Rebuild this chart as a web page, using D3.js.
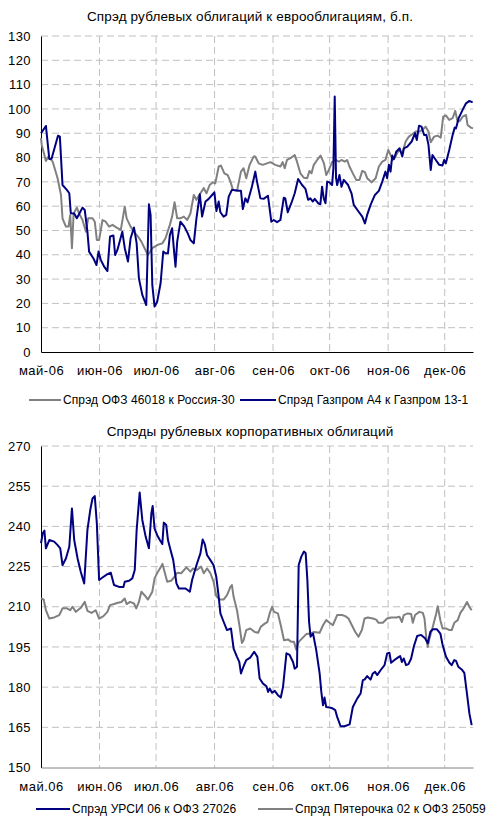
<!DOCTYPE html>
<html>
<head>
<meta charset="utf-8">
<script src="https://cdn.jsdelivr.net/npm/d3@7"></script>
<style>
  body { margin: 0; background: #fff; }
  text { font-family: "Liberation Sans", Arial, sans-serif; fill: #000; }
</style>
</head>
<body>
<svg id="chart" width="490" height="816"></svg>
<script>
// days counted from 1 May 2006
var monthStarts = [0, 31, 61, 92, 123, 153, 184, 214];
var monthLabels1 = ["май-06", "июн-06", "июл-06", "авг-06", "сен-06", "окт-06", "ноя-06", "дек-06"];
var monthLabels2 = ["май.06", "июн.06", "июл.06", "авг.06", "сен.06", "окт.06", "ноя.06", "дек.06"];

var ticks1 = [0, 10, 20, 30, 40, 50, 60, 70, 80, 90, 100, 110, 120, 130];
var ticks2 = [150, 165, 180, 195, 210, 225, 240, 255, 270];

// [day, spread b.p.]
var ofz46018 = [[0,88],[0.4,85.2],[2.6,78.6],[3.9,80.4],[6.2,78.3],[8.8,71.5],[10.6,64.6],[11.4,55],[13.2,51.6],[14.6,51.6],[15.5,56.4],[16.4,42.7],[17.3,57],[19,59.4],[20.2,57],[22,54.3],[23.8,49.5],[25,55],[27.3,55],[28.5,53.6],[29.6,46.1],[30.8,46.1],[32.6,54.3],[34.3,53.6],[36.1,51.6],[37.9,52.3],[40.1,51.2],[42.3,50.2],[44.4,59.8],[45.4,55],[47.5,51.6],[49.3,49.5],[51.4,47.5],[53.2,45.4],[54.9,42.7],[56.7,39.9],[59,42.7],[61.6,44],[64.3,44.7],[66,46.8],[68.3,52.3],[69.5,55.7],[70.8,61.6],[72.2,55],[73.9,55],[75.7,55.7],[77.5,54.3],[79.2,57],[81,64.6],[82.4,62.6],[84.5,65.3],[86.3,67.4],[87.7,65.3],[89.4,68.7],[91.2,69.8],[92.4,69.4],[94.2,76.3],[95.4,76.7],[97.2,73.5],[99,72.8],[100.4,70.1],[101.8,66.7],[103.9,66.3],[106,74.2],[107.4,75.6],[108.8,71.5],[110.6,77],[112.7,80.4],[113.6,80.4],[115.4,77.6],[117.5,77],[119.8,77.6],[121.6,78.1],[124.2,77],[126.9,76.3],[128.1,78.1],[129.2,75.6],[130.4,79],[132.7,80],[134.5,81],[135.7,78.3],[137.5,73.5],[139.3,71.7],[141.1,71.5],[142.3,74.5],[143.4,73.5],[144.6,77],[146.4,79],[148.2,80.8],[150,77.6],[151.2,72.8],[152.6,74.9],[154.3,78.1],[156.1,79],[157.9,78.3],[159.3,79],[161,78.3],[162.3,79],[163.5,76.3],[165.3,73.5],[167.1,70.8],[168.8,70.8],[170.3,74.5],[171.7,74],[172.9,71.5],[175.2,69.8],[177.4,71.5],[179.1,76.3],[180.9,78.3],[182.6,79],[184.1,83.1],[185.3,81],[186.5,79],[187.9,80.4],[189.7,83.1],[191.5,81.8],[193.3,86.6],[195,88.6],[196.8,89.6],[198.6,90.7],[200.7,90.7],[202.1,91.4],[203.9,92.7],[205.4,90.7],[206.6,86.3],[208.4,88.6],[210.2,89],[211.9,88.2],[213.2,96.8],[214.6,97.3],[216.4,95.5],[218.2,96.2],[219.6,99.2],[220.8,94.8],[222,95],[223.5,96.8],[225.3,97.5],[226.1,93.4],[227.9,92.3],[229,92]];

var gazpromA4 = [[0,90],[2.6,93],[4.4,79.4],[5.6,79.5],[9,89],[10,88.6],[11.4,68.7],[13.7,66.7],[15,65.3],[15.8,57.1],[17.6,57],[19,55],[22,59.4],[23.2,58.4],[24.6,49.5],[25.5,41.3],[27.8,38.5],[29.4,35.8],[30.5,41.3],[31.7,37.9],[33.5,35.1],[35.2,33.3],[36.6,47.5],[38.4,47.9],[39.3,39.9],[40.5,42],[43.1,49.5],[44.4,42.7],[46.1,37.2],[47.5,46.8],[49.3,51.2],[50.7,44.7],[51.9,30.3],[53.7,23.5],[55.8,19.3],[57.2,60.8],[58.1,56.4],[59,27.6],[60.2,18.7],[61.6,20.7],[63.4,28.3],[64.8,41.3],[66,40.6],[67.3,40.6],[68.3,48.1],[69.5,50.9],[70.4,42.7],[71.3,35.1],[72.2,45.4],[73.9,53.6],[76,51.6],[77.8,48.8],[79.2,46.1],[81,44.7],[82.4,55],[84.2,64.9],[85.4,55.7],[87.2,61.9],[88.9,63],[90.7,64.6],[91.9,65.7],[93,58],[94.2,61.9],[95.1,57.5],[96.8,55.7],[98.2,56.4],[99.5,63.9],[101.2,66.7],[104.8,66.3],[106,66.3],[107,58.8],[108.3,63.2],[109.5,61.6],[111.8,68],[113.6,74.2],[114.5,70.1],[116.3,63.2],[118,63],[120.3,64.3],[122.1,53.6],[123.4,54.3],[125.1,53.4],[126.9,54.3],[128.7,63.5],[129.5,63.2],[130.8,57.5],[132.7,61.2],[134.5,65.3],[136.3,71.2],[138.4,68.7],[140.2,67.1],[141.6,62.6],[142.8,63.2],[144.1,61.9],[145.1,63],[146.9,61.2],[148.1,60.8],[149,68],[149.9,63.2],[150.8,61.2],[151.7,70.1],[152.9,69.8],[154.3,68.7],[155,75.6],[155.7,105.1],[156.4,71.5],[157,68.7],[158.2,72.8],[159.3,68],[160.5,70.8],[162.8,68.7],[164.6,65.3],[165.8,60.5],[168.1,58],[170.3,55.7],[171.7,52.9],[172.9,56.4],[174.7,60.5],[177,64.6],[179.1,66.3],[180.9,70.1],[182.6,74.2],[183.5,71.5],[184.4,77],[185.3,74.2],[186.2,80.8],[187.1,79.4],[188.3,82.4],[190.1,83.8],[191.5,80.4],[192.4,83.8],[194.2,84.5],[196.5,86.6],[198.3,90],[199.2,87.2],[200.4,93.1],[201.7,92.7],[203.1,89.3],[204.3,89.3],[205.4,85.2],[206.6,74.9],[207.5,81],[209.3,79],[211.1,77],[212.8,76.7],[213.7,79],[214.6,77.6],[216.4,83.1],[218.2,89.3],[219.3,92.3],[220,92],[221.4,96.2],[223.5,99.6],[225.3,102.3],[227.1,103.3],[228.8,102.7]];

var ursi06 = [[0,233.7],[0.9,237.4],[1.8,238.4],[2.6,231.8],[4.4,234.9],[7,234.3],[8.8,233],[10.2,231.8],[11.4,225.5],[13.2,228],[15,232.4],[16.4,246.7],[17.6,234.9],[19.4,228],[21.1,223],[22.9,218.7],[24.6,238.6],[26.1,246.1],[27.3,250.4],[28.5,251.3],[29.6,241.1],[30.8,220],[32.6,220.9],[35.2,222.2],[37,222.7],[38.7,218.1],[41.4,217.4],[43.7,217.4],[44.4,219.3],[46.7,219.7],[48.4,220.6],[49.7,223.7],[50.7,238.6],[52.3,252.6],[53.7,242.4],[55.5,236.1],[57.2,231.8],[58.5,244.8],[59.2,247.6],[60.2,239.2],[61.6,236.7],[63,234.9],[64.3,233.4],[65.1,241.4],[66.4,240.5],[67.3,234.9],[68.7,231.1],[70.1,227.4],[71.8,218.7],[73.1,216.8],[76.6,216.8],[78.9,215.6],[80.1,220],[82.4,225.5],[84.5,229.9],[85.7,235.1],[86.8,233.4],[88,229.3],[89.8,227.4],[91.5,225.5],[92.9,221.2],[94.2,213.7],[95.1,207.5],[96.8,204.4],[98.6,201.3],[100.7,201.9],[102.1,194.4],[103.9,191.3],[105.1,189.4],[106,185.1],[107.4,187.8],[108.8,190.1],[110.9,191],[113,193.2],[114.7,191.3],[115.9,183.2],[117.7,181.3],[119.5,180.3],[120.4,178.2],[121.2,179.5],[122.5,177.9],[123.9,178.6],[125.6,177],[127.1,176.1],[128.3,180.1],[130.1,192.6],[131.8,192],[133.6,189.4],[134.5,186.9],[135.7,187.6],[136.6,225.6],[138,228.7],[139.4,230.6],[140.3,230],[141.2,220],[142.1,204.4],[142.9,198.8],[144.2,200],[145.9,193.8],[147.7,185.1],[148.6,178.2],[149.5,173.2],[150.3,176.1],[151.2,172.6],[153,172.4],[154.7,172],[156,171.4],[157,168.9],[158.8,165.4],[160.9,165.4],[163.6,166.1],[165.3,172.6],[167.6,175.7],[169.4,177.6],[170.6,182.6],[171.5,182.8],[172.9,184.1],[174.7,182.8],[175.9,185.1],[177.1,185.7],[178.2,184.5],[180,186.3],[182.1,188.2],[183.5,192.6],[184.7,192.8],[185.6,189.1],[187.4,190.1],[189.1,191],[190.4,191.6],[191.3,189.4],[192.3,190.7],[193.5,188.2],[194.8,188.6],[196.2,190.7],[197.6,195.1],[199.4,199.1],[201.5,199.5],[203.6,198.2],[205,196.4],[206.4,200.7],[207.7,201.6],[209.9,201.6],[211.7,200],[212.9,195.7],[214.7,191.3],[216.5,189.1],[217.7,188.2],[219.1,190.1],[220,189.8],[221.2,187.6],[223,186.6],[224.4,185.3],[225.8,177.6],[227.1,170.1],[228.3,165.8]];

var pyaterochka02 = [[0,213.1],[1.4,212.7],[2.6,208.7],[4.4,205.6],[7,206],[9.7,206.9],[11.4,209.4],[13.7,209.4],[15.5,208.7],[16.7,210],[18.5,208.1],[21.1,209.6],[23.2,211.8],[24.6,208.5],[26.8,207.7],[29,208.7],[30.8,205.6],[33.1,206.5],[35.2,208.1],[36.6,210.6],[38.7,211],[40.8,211.5],[42.6,211.8],[44.4,213.1],[45.4,211],[47.2,211.8],[49.3,211.2],[50.5,209.4],[51.9,211.8],[53.2,215.6],[54.9,214.3],[56.7,212.7],[59,215.6],[60.2,220.6],[62,223.1],[63.4,224.7],[64.4,226],[65.5,223.1],[66.9,219.3],[69,219.7],[70.8,221.2],[72.2,222.7],[74.3,222.5],[77.1,224.7],[79.2,223.1],[80.6,224.3],[82.7,223.7],[84.9,225],[86.3,222.5],[88,224.3],[89.8,222.5],[91.5,219.3],[92.9,214],[94.7,212.7],[96.8,212.7],[98.6,214.3],[100.4,217.4],[101.2,218.1],[102.1,213.7],[103.9,208.7],[105.3,202.5],[106.5,196.5],[107.4,197.5],[108.8,201.3],[110.9,201.9],[113.3,200.6],[115.1,200.3],[116.5,202.5],[118.6,203.7],[120,204.3],[121.2,207.5],[122.5,210],[123.5,208.1],[125.6,207.5],[127.1,203.1],[128.8,197.5],[130.9,197.8],[132.7,196.9],[134.1,196.9],[135.3,194],[136.6,196.9],[138.3,198.1],[140.6,199.8],[142.9,200],[144.7,200.6],[147.7,200.3],[149.5,203.1],[151.2,205],[153,204],[154.7,203.1],[157,206.9],[159.5,206.9],[161.3,206.5],[163,205.6],[164.8,203.1],[166.6,200.6],[168.3,198.8],[170.1,201.3],[171.5,205.6],[173.3,206],[175.9,205.6],[177.7,205.2],[178.9,204],[181.2,204],[183.5,205.6],[185.6,206],[188.3,206],[190,206.3],[191.3,204.3],[192.3,206.9],[194.4,207.5],[196.2,207.3],[197.1,204],[198.3,206.9],[200.6,208.1],[202.4,207.7],[203.3,205.6],[204.2,198.8],[205,195],[205.9,198.1],[207.7,202.5],[209.5,207.5],[210.3,210.2],[211.7,205],[212.9,201.9],[214.7,201.9],[216.5,201.3],[217.7,201.3],[219.1,204],[220.9,205],[222.3,207.7],[224,209.4],[225.8,211.8],[227.1,209.9],[228.3,208.7]];

var BLUE = "#000080", GRAY = "#808080";

var svg = d3.select("#chart");
svg.append("rect").attr("width", 490).attr("height", 816).attr("fill", "#fff");

var x = d3.scaleLinear().domain([0, 229]).range([41, 473]);

function drawChart(c) {
  var y = d3.scaleLinear().domain([c.ticks[0], c.ticks[c.ticks.length - 1]]).range([c.bottom, c.top]);
  var g = svg.append("g");

  g.append("text")
      .attr("x", 250).attr("y", c.titleY)
      .attr("text-anchor", "middle")
      .style("font-size", "13.5px")
      .style("letter-spacing", "0.15px")
      .text(c.title);

  // grid
  g.selectAll(".hgrid").data(c.ticks.slice(1)).enter().append("line")
      .attr("x1", 41).attr("x2", 473)
      .attr("y1", function(d) { return y(d); }).attr("y2", function(d) { return y(d); })
      .attr("stroke", "#c0c0c0").attr("stroke-dasharray", "7,4");
  g.selectAll(".vgrid").data(monthStarts.slice(1)).enter().append("line")
      .attr("x1", function(d) { return x(d); }).attr("x2", function(d) { return x(d); })
      .attr("y1", c.top).attr("y2", c.bottom)
      .attr("stroke", "#c0c0c0").attr("stroke-dasharray", "7,4");

  var yAxis = g.append("g")
      .attr("transform", "translate(41,0)")
      .call(d3.axisLeft(y).tickValues(c.ticks).tickSize(0).tickPadding(10));
  yAxis.select(".domain").attr("stroke", "#000");
  yAxis.selectAll("text")
      .style("font-size", "13px")
      .style("letter-spacing", "0.4px")
      .style("font-family", "Liberation Sans, Arial, sans-serif");

  var xAxis = g.append("g")
      .attr("transform", "translate(0," + c.bottom + ")")
      .call(d3.axisBottom(x).tickValues(monthStarts).tickSize(0).tickPadding(14)
        .tickFormat(function(d, i) { return c.months[i]; }));
  xAxis.select(".domain").attr("stroke", c.baseColor);
  xAxis.selectAll("text")
      .style("font-size", "13px")
      .style("letter-spacing", "0.5px")
      .style("font-family", "Liberation Sans, Arial, sans-serif");

  var line = d3.line()
      .x(function(d) { return x(d[0]); })
      .y(function(d) { return y(d[1]); });

  c.series.forEach(function(s) {
    g.append("path")
        .datum(s.data)
        .attr("fill", "none")
        .attr("stroke", s.color)
        .attr("stroke-width", 2)
        .attr("stroke-linejoin", "round")
        .attr("d", line);
  });

  // legend
  c.series.forEach(function(s) {
    g.append("line")
        .attr("x1", s.lx).attr("x2", s.lx + s.lw)
        .attr("y1", c.legendY).attr("y2", c.legendY)
        .attr("stroke", s.color).attr("stroke-width", 2);
    g.append("text")
        .attr("x", s.lx + s.lw + 2).attr("y", c.legendY + 4)
        .style("font-size", "12px")
        .style("letter-spacing", "0.1px")
        .text(s.name);
  });
}

drawChart({
  title: "Спрэд рублевых облигаций к еврооблигациям, б.п.",
  titleY: 21, top: 36, bottom: 352, ticks: ticks1, months: monthLabels1,
  baseColor: "#000", legendY: 400,
  series: [
    {name: "Спрэд ОФЗ 46018 к Россия-30", data: ofz46018, color: GRAY, lx: 29, lw: 32},
    {name: "Спрэд Газпром А4 к Газпром 13-1", data: gazpromA4, color: BLUE, lx: 240, lw: 36}
  ]
});

drawChart({
  title: "Спрэды рублевых корпоративных облигаций",
  titleY: 436, top: 446, bottom: 767.5, ticks: ticks2, months: monthLabels2,
  baseColor: "#808080", legendY: 809,
  series: [
    {name: "Спрэд Пятерочка 02 к ОФЗ 25059", data: pyaterochka02, color: GRAY, lx: 258, lw: 35},
    {name: "Спрэд УРСИ 06 к ОФЗ 27026", data: ursi06, color: BLUE, lx: 36, lw: 34}
  ]
});
</script>
</body>
</html>
